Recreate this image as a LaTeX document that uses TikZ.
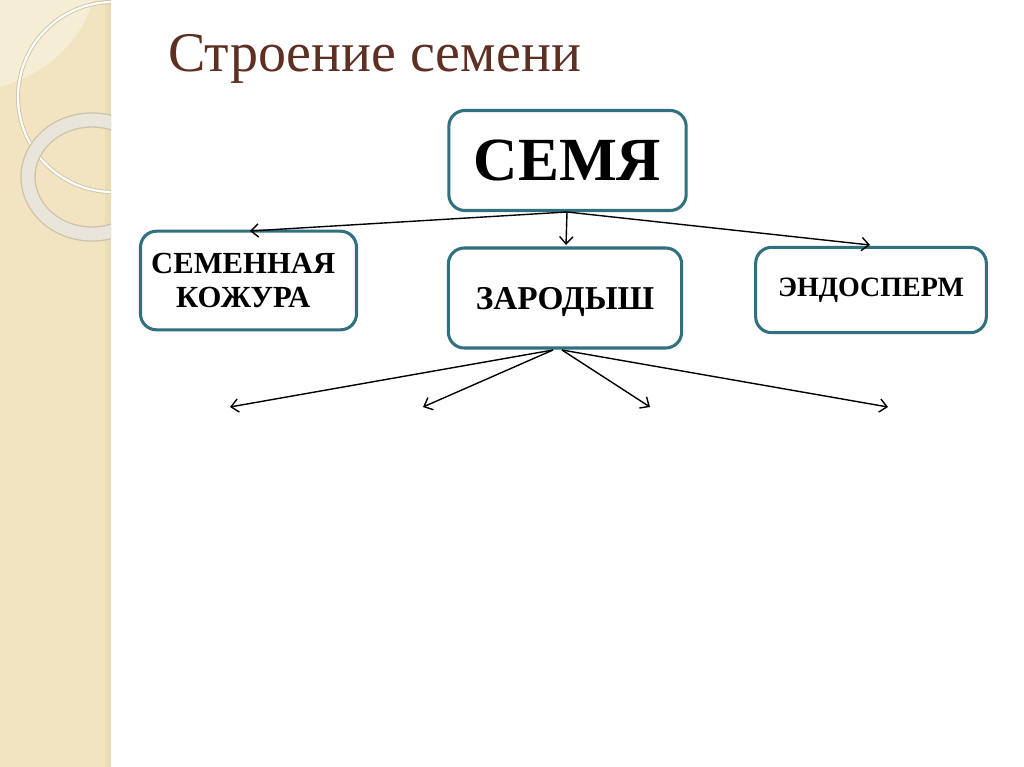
\documentclass[tikz,border=0pt]{standalone}
\usepackage{fontspec}
\setmainfont{Liberation Serif}
\usetikzlibrary{arrows.meta}
\definecolor{strip}{RGB}{242,228,192}
\definecolor{stripedge}{RGB}{235,220,180}
\definecolor{ringc}{RGB}{233,229,218}
\definecolor{ringsh}{RGB}{205,195,170}
\definecolor{titlec}{RGB}{94,48,36}
\definecolor{boxc}{RGB}{49,112,126}
\tikzset{
  box/.style={draw=boxc, line width=2.3pt, rounded corners=12pt, fill=white,
    inner sep=0pt, align=center, font=\bfseries},
  conn/.style={line width=1.05pt, -{Straight Barb[length=5.5pt,width=10pt]}}
}
\begin{document}
\begin{tikzpicture}[x=0.75pt,y=-0.75pt]
\useasboundingbox (0,0) rectangle (1024,767);
\fill[white] (0,0) rectangle (1024,767);
% left strip
\fill[strip] (0,0) rectangle (111,767);
\fill[stripedge] (105,0) rectangle (111,767);
\begin{scope}
\clip (0,0) rectangle (111,767);
\fill[white, opacity=0.35] (-30,-40) circle [radius=130];
\draw[ringsh, line width=3pt] (113,97) circle [radius=95];
\draw[white!92!strip, line width=1.7pt] (113,97) circle [radius=95];
\draw[ringsh, line width=11.5pt] (92,177) ellipse [x radius=64, y radius=57];
\draw[ringc, line width=9.5pt] (92,177) ellipse [x radius=64, y radius=57];
\end{scope}
% title
\node[anchor=base west, inner sep=0pt, text=titlec, font=\fontsize{42}{46}\selectfont] (title) at (168,72) {Строение семени};
% boxes
\node[box, minimum width=178pt, minimum height=75pt, font=\bfseries\fontsize{46}{50}\selectfont] (seed) at (567.5,160.5) {СЕМЯ};
\node[box, minimum width=162pt, minimum height=74pt, font=\bfseries\fontsize{23}{26}\selectfont] (coat) at (248.5,280.5) {\hspace*{-8pt}СЕМЕННАЯ\\\hspace*{-8pt}КОЖУРА};
\node[box, minimum width=175pt, minimum height=75pt, font=\bfseries\fontsize{25}{28}\selectfont, text depth=-2pt] (embryo) at (565,298) {ЗАРОДЫШ};
\node[box, minimum width=173pt, minimum height=64pt, font=\bfseries\fontsize{21}{24}\selectfont] (endo) at (871,290) {ЭНДОСПЕРМ};
% arrow ends
\coordinate (s0) at (567,212);
\coordinate (a1) at (250,231);
\coordinate (a2) at (566,245);
\coordinate (a3) at (870,245);
\coordinate (e0) at (553,350);
\coordinate (e1) at (562,350);
\coordinate (b1) at (230,407);
\coordinate (b2) at (423,407);
\coordinate (b3) at (650,407);
\coordinate (b4) at (888,407);
\draw[conn] (s0) -- (a1);
\draw[conn] (s0) -- (a2);
\draw[conn] (s0) -- (a3);
\draw[conn] (e0) -- (b1);
\draw[conn] (e0) -- (b2);
\draw[conn] (e1) -- (b3);
\draw[conn] (e1) -- (b4);
\end{tikzpicture}
\end{document}
